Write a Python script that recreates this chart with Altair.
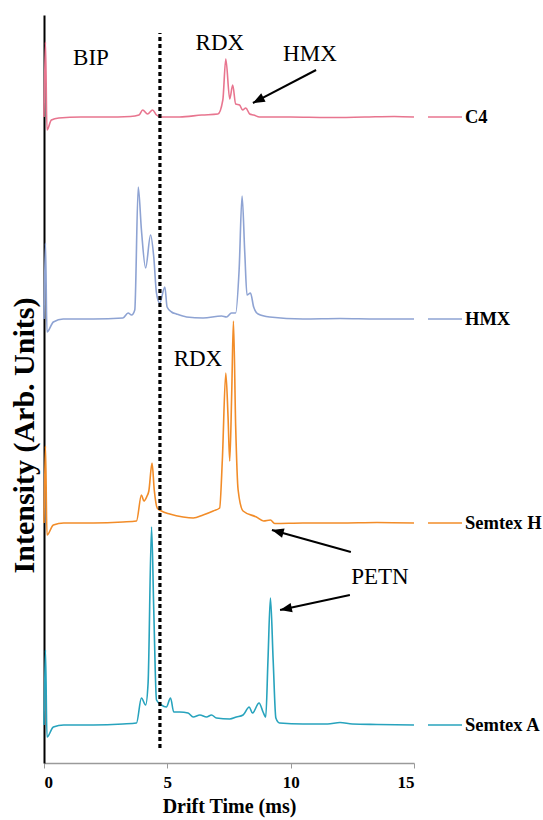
import altair as alt
import pandas as pd
import numpy as np

# ---------------- data ----------------
SERIES = ["C4", "HMX", "Semtex H", "Semtex A"]
COLORS = ["#E8758F", "#8EA3D3", "#F28C28", "#27A3BD"]
OFFSETS = [6.46, 4.44, 2.40, 0.38]   # vertical stacking offset of each spectrum

C4_T = [0, 0.06, 0.12, 0.3, 0.6, 1.5, 2.5, 3.5, 3.85, 4.0, 4.2, 4.4, 4.56, 4.75, 5.5, 6.4,
        7.05, 7.25, 7.37, 7.53, 7.65, 7.77, 7.93, 8.05, 8.18, 8.34, 8.5, 8.74, 10, 11.5, 13, 14.2, 15]
C4_V = [0, 0.75, -0.13, -0.03, -0.01, 0, 0, 0.005, 0.02, 0.07, 0.03, 0.07, 0.02, 0, 0, 0.02,
        0.03, 0.17, 0.58, 0.18, 0.32, 0.13, 0.12, 0.07, 0.09, 0.03, 0.02, 0, 0, -0.005, 0, 0.005, 0]

HMX_T = [0, 0.06, 0.12, 0.38, 0.78, 2, 3.2, 3.41, 3.55, 3.68, 3.82, 3.95, 4.12, 4.32, 4.45, 4.56,
         4.69, 4.9, 4.99, 5.17, 5.37, 5.78, 6.45, 7.2, 7.4, 7.6, 7.77, 7.91, 8.03, 8.14, 8.23, 8.37,
         8.5, 8.68, 9.15, 10.5, 12, 13.5, 15]
HMX_V = [0, 0.76, -0.13, -0.03, 0, 0, 0.01, 0.06, 0.04, 0.09, 1.32, 0.89, 0.51, 0.84, 0.62, 0.26,
         0.16, 0.32, 0.12, 0.07, 0.05, 0.02, 0.01, 0.03, 0.02, 0.06, 0.06, 0.49, 1.23, 0.66, 0.24, 0.26,
         0.12, 0.05, 0.02, 0, 0.005, 0, 0]

SEMH_T = [0, 0.06, 0.12, 0.38, 0.8, 2, 3.2, 3.75, 3.95, 4.05, 4.16, 4.25, 4.38, 4.47, 4.59, 4.76,
          5.1, 5.64, 6.05, 6.45, 6.86, 7.12, 7.23, 7.37, 7.46, 7.53, 7.61, 7.68, 7.77, 7.87, 8.07,
          8.61, 8.9, 9.18, 9.35, 10.5, 12, 13.5, 15]
SEMH_V = [0, 0.77, -0.12, -0.02, 0, 0, 0.01, 0.02, 0.28, 0.22, 0.26, 0.32, 0.6, 0.33, 0.15, 0.12,
          0.09, 0.06, 0.05, 0.08, 0.12, 0.15, 0.63, 1.5, 1.07, 0.62, 1.3, 2.02, 0.97, 0.33, 0.12,
          0.06, 0.02, 0.03, -0.005, 0, 0, 0.005, 0]

SEMA_T = [0, 0.06, 0.12, 0.38, 0.8, 2, 3.2, 3.75, 3.95, 4.12, 4.22, 4.36, 4.45, 4.56, 4.76, 4.96,
          5.13, 5.26, 5.5, 5.84, 6.05, 6.32, 6.59, 6.79, 6.99, 7.53, 7.8, 8.07, 8.32, 8.45, 8.72,
          8.88, 8.99, 9.08, 9.18, 9.29, 9.4, 9.55, 10.5, 11.5, 12.0, 12.5, 13.5, 15]
SEMA_V = [0, 0.75, -0.12, -0.02, 0, 0, 0.01, 0.02, 0.27, 0.2, 0.42, 1.98, 1.15, 0.25, 0.2, 0.18,
          0.27, 0.13, 0.13, 0.12, 0.08, 0.1, 0.08, 0.1, 0.07, 0.06, 0.08, 0.1, 0.18, 0.12, 0.22,
          0.13, 0.08, 0.65, 1.27, 0.65, 0.07, 0.02, 0.01, 0.01, 0.025, 0.01, 0.005, 0]

X_TICKS = [0, 5, 10, 15]
DIVIDER_T = 4.7

ANNOT_TEXT = ["BIP", "RDX", "HMX", "RDX", "PETN"]
ANNOT_T = [1.905, 7.13, 10.78, 6.24, 13.62]
ANNOT_V = [7.05, 7.20, 7.09, 4.04, 1.86]

ARROW_TAIL_T = [11.03, 12.44, 12.40]
ARROW_TAIL_V = [6.93, 2.11, 1.68]
ARROW_HEAD_T = [8.47, 9.24, 9.57]
ARROW_HEAD_V = [6.60, 2.33, 1.53]

# ---------------- geometry ----------------
W, H = 370, 748
T_MAX, V_MAX = 15, 7.48
SERIF = "Liberation Serif"

rows = []
for name, off, ts, vs in zip(SERIES, OFFSETS,
                             [C4_T, HMX_T, SEMH_T, SEMA_T],
                             [C4_V, HMX_V, SEMH_V, SEMA_V]):
    for t, v in zip(ts, vs):
        rows.append({"series": name, "t": t, "v": off + v})
traces = pd.DataFrame(rows)

labels = pd.DataFrame({"series": SERIES, "v": OFFSETS})
divider = pd.DataFrame({"t": [DIVIDER_T], "v": [0.15], "v2": [7.30]})
annots = pd.DataFrame({"label": ANNOT_TEXT, "t": ANNOT_T, "v": ANNOT_V})

arrows = pd.DataFrame({"t": ARROW_TAIL_T, "v": ARROW_TAIL_V,
                       "t2": ARROW_HEAD_T, "v2": ARROW_HEAD_V})
dx = (arrows["t2"] - arrows["t"]) * W / T_MAX
dy = -(arrows["v2"] - arrows["v"]) * H / V_MAX
arrows["angle"] = (np.degrees(np.arctan2(dx, -dy)) + 360) % 360
heads = arrows[["t2", "v2", "angle"]].rename(columns={"t2": "t", "v2": "v"})

X_SCALE = alt.Scale(domain=[0, T_MAX], nice=False, zero=False)
Y_SCALE = alt.Scale(domain=[0, V_MAX], nice=False, zero=False)
color = alt.Color("series:N", scale=alt.Scale(domain=SERIES, range=COLORS), legend=None)

x_axis = alt.Axis(title="Drift Time (ms)", values=X_TICKS, grid=False,
                  domainColor="#9A9A9A", domainWidth=1.3, tickColor="#9A9A9A", tickSize=5,
                  labelFont=SERIF, labelFontWeight="bold", labelFontSize=17, labelColor="black",
                  labelPadding=6, titleFont=SERIF, titleFontWeight="bold", titleFontSize=20,
                  titleColor="black", titlePadding=6)
y_axis = alt.Axis(title="Intensity (Arb. Units)", grid=False, ticks=False, labels=False,
                  domainColor="black", domainWidth=2,
                  titleFont=SERIF, titleFontWeight="bold", titleFontSize=30, titleColor="black",
                  titleX=-20, titleY=420, titleBaseline="middle", titleAngle=270)

lines = alt.Chart(traces).mark_line(strokeWidth=1.6, interpolate="monotone").encode(
    x=alt.X("t:Q", scale=X_SCALE, axis=x_axis),
    y=alt.Y("v:Q", scale=Y_SCALE, axis=y_axis),
    color=color,
    detail="series:N",
)

key_lines = alt.Chart(labels).mark_rule(strokeWidth=1.6).encode(
    x=alt.value(384), x2=alt.value(418), y="v:Q", color=color)

key_text = alt.Chart(labels).mark_text(
    align="left", baseline="middle", font=SERIF, fontWeight="bold", fontSize=18.5, color="black"
).encode(x=alt.value(421), y="v:Q", text="series:N")

div_rule = alt.Chart(divider).mark_rule(color="black", strokeWidth=3.2, strokeDash=[4, 3]).encode(
    x="t:Q", y="v:Q", y2="v2:Q")

annot_text = alt.Chart(annots).mark_text(
    align="center", baseline="middle", font=SERIF, fontSize=23, color="black"
).encode(x="t:Q", y="v:Q", text="label:N")

arrow_lines = alt.Chart(arrows).mark_rule(color="black", strokeWidth=2).encode(
    x="t:Q", y="v:Q", x2="t2:Q", y2="v2:Q")

arrow_heads = alt.Chart(heads).mark_point(
    shape="M0,0L-0.4,1L0.4,1Z", filled=True, color="black", opacity=1, size=560, strokeWidth=0
).encode(x="t:Q", y="v:Q", angle=alt.Angle("angle:Q", scale=None))

chart = alt.layer(
    lines, key_lines, key_text, div_rule, annot_text, arrow_lines, arrow_heads
).properties(
    width=W, height=H,
    autosize=alt.AutoSizeParams(type="none"),
    padding={"left": 44, "top": 15, "right": 129, "bottom": 57},
    background="white",
).configure_view(stroke=None)

chart.save("out.html", embed_options={"renderer": "svg", "actions": False})
